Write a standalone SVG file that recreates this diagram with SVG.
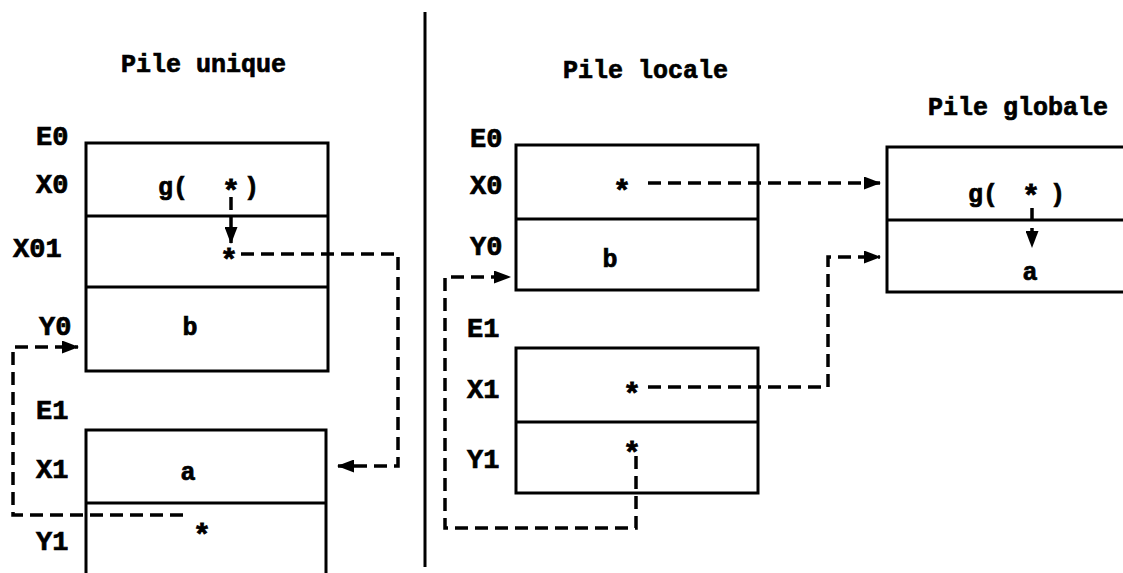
<svg xmlns="http://www.w3.org/2000/svg" width="1123" height="573" viewBox="0 0 1123 573">
  <style>
    .box { fill: none; stroke: #000; stroke-width: 3; }
    .sep { stroke: #000; stroke-width: 3; }
    .t { font-family: "Liberation Mono", "DejaVu Sans Mono", monospace; font-weight: bold; font-size: 25px; fill: #000; stroke: #000; stroke-width: 0.7; }
    .lbl { font-family: "Liberation Mono", "DejaVu Sans Mono", monospace; font-weight: bold; font-size: 27px; fill: #000; stroke: #000; stroke-width: 0.7; }
    .star { font-family: "Liberation Mono", "DejaVu Sans Mono", monospace; font-weight: bold; font-size: 30px; fill: #000; stroke: #000; stroke-width: 0.8; text-anchor: middle; }
    .mid { text-anchor: middle; }
    .dash { fill: none; stroke: #000; stroke-width: 3.5; stroke-dasharray: 13 7; }
  </style>
  <defs>
    <marker id="arr" markerWidth="17" markerHeight="13" refX="16" refY="6.5" orient="auto" markerUnits="userSpaceOnUse">
      <path d="M0,0 L17,6.5 L0,13 z" fill="#000"/>
    </marker>
  </defs>
  <rect width="1123" height="573" fill="#fff"/>

  <!-- separator between the two schemes -->
  <line class="sep" x1="425" y1="12" x2="425" y2="567"/>

  <!-- titles -->
  <text class="t" x="121" y="72">Pile unique</text>
  <text class="t" x="563" y="78">Pile locale</text>
  <text class="t" x="928" y="115">Pile globale</text>

  <!-- single stack: frame E0 -->
  <g id="unique-E0">
    <rect class="box" x="86" y="143" width="242" height="228"/>
    <line class="sep" x1="86" y1="216" x2="328" y2="216"/>
    <line class="sep" x1="86" y1="287" x2="328" y2="287"/>
    <text class="lbl" x="36" y="145">E0</text>
    <text class="lbl" x="36" y="193">X0</text>
    <text class="lbl" x="13" y="257">X01</text>
    <text class="lbl" x="39" y="335">Y0</text>
    <text class="t" x="158" y="195">g(</text>
    <text class="t" x="244" y="195">)</text>
    <text class="star" x="231" y="201">*</text>
    <text class="star" x="229" y="270">*</text>
    <text class="t mid" x="190" y="335">b</text>
  </g>

  <!-- single stack: frame E1 -->
  <g id="unique-E1">
    <path class="box" d="M86,573 V430 H326 V573"/>
    <line class="sep" x1="86" y1="503" x2="326" y2="503"/>
    <text class="lbl" x="36" y="419">E1</text>
    <text class="lbl" x="36" y="478">X1</text>
    <text class="lbl" x="36" y="550">Y1</text>
    <text class="t mid" x="188" y="480">a</text>
    <text class="star" x="202" y="545">*</text>
  </g>

  <!-- local stack: frame E0 -->
  <g id="locale-E0">
    <rect class="box" x="516" y="145" width="242" height="145"/>
    <line class="sep" x1="516" y1="219" x2="758" y2="219"/>
    <text class="lbl" x="470" y="147">E0</text>
    <text class="lbl" x="470" y="194">X0</text>
    <text class="lbl" x="470" y="255">Y0</text>
    <text class="star" x="622" y="201">*</text>
    <text class="t mid" x="610" y="267">b</text>
  </g>

  <!-- local stack: frame E1 -->
  <g id="locale-E1">
    <rect class="box" x="516" y="348" width="242" height="145"/>
    <line class="sep" x1="516" y1="422" x2="758" y2="422"/>
    <text class="lbl" x="467" y="337">E1</text>
    <text class="lbl" x="467" y="398">X1</text>
    <text class="lbl" x="467" y="468">Y1</text>
    <text class="star" x="632" y="404">*</text>
    <text class="star" x="632" y="463">*</text>
  </g>

  <!-- global stack -->
  <g id="globale">
    <path class="box" d="M1123,147 H887 V292 H1123"/>
    <line class="sep" x1="887" y1="220" x2="1123" y2="220"/>
    <text class="t" x="968" y="202">g(</text>
    <text class="t" x="1050" y="202">)</text>
    <text class="star" x="1031" y="206">*</text>
    <text class="t mid" x="1030" y="280">a</text>
  </g>

  <!-- pointers -->
  <g id="connectors">
    <path class="dash" d="M231,197 V243" marker-end="url(#arr)"/>
    <path class="dash" d="M241,254 H398 V466 H338" marker-end="url(#arr)"/>
    <path class="dash" d="M183,515 H13 V347 H78" marker-end="url(#arr)"/>
    <path class="dash" d="M648,183 H880" marker-end="url(#arr)"/>
    <path class="dash" d="M648,387 H828 V257 H880" marker-end="url(#arr)"/>
    <path class="dash" d="M636,456 V528 H445 V277 H510" marker-end="url(#arr)"/>
    <path class="dash" d="M1032,208 V247" marker-end="url(#arr)"/>
  </g>
</svg>
